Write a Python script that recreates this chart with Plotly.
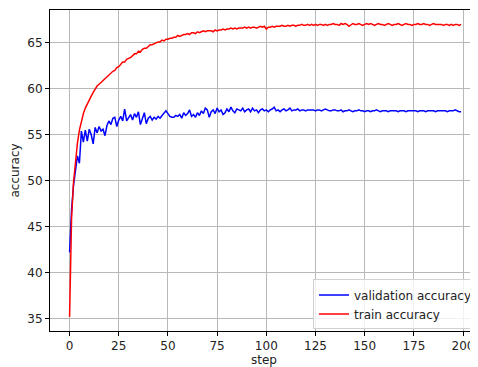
import plotly.graph_objects as go

steps = list(range(200))

train_accuracy = [
    35.2, 45.8, 49.8, 52.3, 54.1, 55.5, 56.6, 57.3, 57.9, 58.4,
    58.8, 59.2, 59.6, 60.0, 60.3, 60.5, 60.7, 61.0, 61.2, 61.4,
    61.5, 61.8, 61.9, 62.0, 62.3, 62.4, 62.7, 62.9, 62.9, 63.2,
    63.3, 63.4, 63.6, 63.8, 63.8, 64.1, 64.0, 64.3, 64.4, 64.4,
    64.6, 64.8, 64.8, 64.9, 65.0, 65.1, 65.1, 65.3, 65.2, 65.4,
    65.4, 65.5, 65.5, 65.6, 65.6, 65.8, 65.7, 65.8, 65.9, 65.9,
    66.0, 65.9, 66.1, 66.1, 66.0, 66.2, 66.1, 66.2, 66.3, 66.2,
    66.3, 66.3, 66.3, 66.2, 66.4, 66.3, 66.4, 66.4, 66.5, 66.4,
    66.5, 66.5, 66.6, 66.5, 66.6, 66.5, 66.6, 66.6, 66.6, 66.7,
    66.6, 66.7, 66.6, 66.7, 66.7, 66.6, 66.7, 66.8, 66.7, 66.8,
    66.5, 66.7, 66.7, 66.8, 66.7, 66.8, 66.8, 66.8, 66.9, 66.8,
    66.8, 66.9, 66.8, 66.9, 66.9, 66.8, 66.9, 66.9, 67.0, 66.9,
    66.9, 67.0, 66.9, 67.0, 66.9, 67.0, 66.9, 67.0, 67.0, 66.9,
    67.0, 66.9, 67.0, 67.0, 67.1, 67.0, 67.0, 66.9, 67.1, 67.0,
    67.1, 67.0, 66.8, 67.0, 67.1, 67.0, 67.0, 67.1, 67.0, 66.9,
    67.0, 67.1, 67.0, 67.1, 67.0, 66.9, 67.0, 67.1, 67.0, 67.0,
    66.9, 67.0, 67.1, 67.0, 66.9, 67.0, 67.0, 67.1, 67.0, 66.9,
    67.0, 67.1, 67.0, 67.0, 66.9, 67.0, 67.0, 67.1, 67.0, 67.0,
    67.1, 67.0, 67.0, 66.9, 67.0, 67.1, 67.0, 67.0, 67.0, 67.0,
    66.9, 67.0, 67.0, 66.9, 67.0, 66.9, 67.0, 67.0, 66.9, 67.0,
]

validation_accuracy = [
    42.2, 46.8, 49.5, 51.0, 52.7, 51.9, 55.4, 54.2, 55.5, 54.3,
    55.6, 55.0, 54.0, 55.8, 55.2, 55.9, 55.4, 55.6, 54.9, 56.0,
    56.5, 56.1, 56.8, 56.9, 55.9, 56.6, 57.0, 56.5, 57.8, 56.5,
    56.8, 57.2, 56.6, 57.3, 56.9, 57.5, 56.1, 56.9, 57.4, 56.2,
    56.8, 57.0, 56.6, 56.9, 56.7, 57.0, 56.8, 57.1, 57.4, 57.6,
    57.3, 57.0, 56.9, 56.9, 57.1, 57.0, 57.2, 56.8, 57.4, 57.1,
    57.3, 57.7, 57.0, 57.2, 56.9, 57.4, 57.1, 57.6, 57.3, 57.9,
    57.7, 56.9, 57.5, 57.7, 57.3, 57.9, 57.5, 57.7, 57.2, 57.4,
    57.8, 57.5, 58.0, 57.6, 57.4, 57.8, 57.7, 57.6, 57.9, 57.5,
    57.7, 57.8, 57.5, 57.9, 57.6, 57.7, 57.4, 57.7, 57.8, 57.6,
    57.7, 57.5, 57.7, 57.8, 58.0, 57.6, 57.7, 57.5, 57.7, 57.8,
    57.6, 57.7, 57.9, 57.6, 57.7, 57.7, 57.8, 57.6, 57.7, 57.7,
    57.6, 57.7, 57.7, 57.7, 57.7, 57.6, 57.7, 57.7, 57.6, 57.7,
    57.8, 57.7, 57.6, 57.6, 57.7, 57.7, 57.6, 57.6, 57.7, 57.5,
    57.6, 57.6, 57.7, 57.6, 57.5, 57.6, 57.6, 57.7, 57.6, 57.6,
    57.5, 57.6, 57.6, 57.5, 57.6, 57.6, 57.7, 57.6, 57.5, 57.6,
    57.6, 57.6, 57.5, 57.6, 57.6, 57.6, 57.6, 57.5, 57.6, 57.6,
    57.6, 57.5, 57.6, 57.6, 57.6, 57.6, 57.6, 57.5, 57.6, 57.6,
    57.6, 57.5, 57.6, 57.6, 57.6, 57.6, 57.5, 57.6, 57.6, 57.6,
    57.6, 57.6, 57.5, 57.6, 57.6, 57.6, 57.7, 57.6, 57.5, 57.5,
]

x_ticks = [0, 25, 50, 75, 100, 125, 150, 175, 200]
y_ticks = [35, 40, 45, 50, 55, 60, 65]

FONT = "DejaVu Sans"
TEXT = "#222222"

fig = go.Figure()
fig.add_trace(go.Scatter(x=steps, y=validation_accuracy, mode="lines",
                         name="validation accuracy",
                         line=dict(color="#0000ff", width=1.5)))
fig.add_trace(go.Scatter(x=steps, y=train_accuracy, mode="lines",
                         name="train accuracy",
                         line=dict(color="#ff0000", width=1.5)))

axis_common = dict(
    showgrid=True, gridcolor="#b8b8b8", gridwidth=1,
    zeroline=False, showline=True, linecolor="black", linewidth=1,
    ticks="outside", ticklen=4, tickwidth=1, tickcolor="black",
    tickfont=dict(family=FONT, size=12, color=TEXT),
)

# page body has an 8px margin, so the figure is offset by (8, 8)
fig.update_layout(
    width=470, height=359,
    margin=dict(l=42, r=0, t=2, b=36),
    paper_bgcolor="white", plot_bgcolor="white",
    font=dict(family=FONT, size=12, color=TEXT),
    showlegend=True,
    legend=dict(
        x=1.0, y=0.005, xanchor="right", yanchor="bottom",
        bgcolor="rgba(255,255,255,0.8)", bordercolor="#d0d0d0", borderwidth=1,
        font=dict(family=FONT, size=12, color=TEXT),
        tracegroupgap=0, itemwidth=30,
    ),
    xaxis=dict(
        **axis_common,
        range=[-9.95, 207.6], tickvals=x_ticks, mirror=True,
        title=dict(text="step", standoff=8,
                   font=dict(family=FONT, size=12, color=TEXT)),
        automargin=False,
    ),
    yaxis=dict(
        **axis_common,
        range=[33.65, 68.57], tickvals=y_ticks, mirror=False,
        title=dict(text="accuracy", standoff=6,
                   font=dict(family=FONT, size=12, color=TEXT)),
        automargin=False,
    ),
)

fig.write_html("out.html")
